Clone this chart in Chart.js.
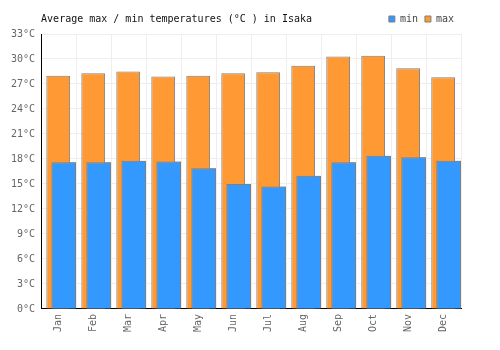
<!DOCTYPE html>
<html><head><meta charset="utf-8">
<script src="https://cdn.jsdelivr.net/npm/chart.js@4"></script>
<style>html,body{margin:0;padding:0;background:#fff}</style>
</head><body>
<canvas id="c" width="500" height="350"></canvas>
<script>
const titleText = 'Average max / min temperatures (°C ) in Isaka';
const months = ['Jan','Feb','Mar','Apr','May','Jun','Jul','Aug','Sep','Oct','Nov','Dec'];
const maxTemps = [28.0, 28.3, 28.5, 27.9, 28.0, 28.3, 28.4, 29.2, 30.3, 30.4, 28.9, 27.8];
const minTemps = [17.6, 17.6, 17.8, 17.7, 16.9, 15.0, 14.7, 16.0, 17.6, 18.4, 18.2, 17.8];
const yMin = 0, yMax = 33, yStep = 3;

const FONT = "'DejaVu Sans Mono', monospace";
Chart.defaults.font.family = FONT;
Chart.defaults.font.size = 10;

const titlePlugin = {
  id: 'sideTitle',
  afterDraw(chart) {
    const ctx = chart.ctx;
    const hb = chart.legend && chart.legend.legendHitBoxes && chart.legend.legendHitBoxes[0];
    const y = hb ? hb.top + hb.height / 2 : 17;
    ctx.save();
    ctx.font = '10px ' + FONT;
    ctx.fillStyle = '#111';
    ctx.textBaseline = 'middle';
    ctx.textAlign = 'left';
    ctx.fillText(titleText, chart.chartArea.left, y);
    ctx.restore();
  }
};
const minOnTop = {
  id: 'minOnTop',
  afterDatasetsDraw(chart) {
    const meta = chart.getDatasetMeta(1);
    if (meta && meta.controller) meta.controller.draw();
  }
};

new Chart(document.getElementById('c'), {
  type: 'bar',
  data: {
    labels: months,
    datasets: [
      { label: 'max', data: maxTemps, backgroundColor: '#ff9933', borderColor: '#7f7f7f', borderWidth: 1,
        categoryPercentage: 0.04, barPercentage: 34 },
      { label: 'min', data: minTemps, backgroundColor: '#3399ff', borderColor: '#7f7f7f', borderWidth: 1,
        categoryPercentage: 0.589, barPercentage: 2.4 }
    ]
  },
  options: {
    responsive: false,
    animation: false,
    layout: { padding: { left: 5, right: 39, top: 7, bottom: 13 } },
    plugins: {
      title: { display: false },
      tooltip: { enabled: false },
      legend: {
        position: 'top', align: 'end', reverse: true,
        labels: { boxWidth: 6, boxHeight: 6, padding: 7, color: '#444', font: { size: 10, family: FONT } }
      }
    },
    scales: {
      x: {
        offset: true,
        grid: { color: '#eeeeee', drawTicks: false, offset: true },
        border: { color: '#000', width: 1 },
        ticks: { minRotation: 90, maxRotation: 90, color: '#666', padding: 5, font: { size: 10, family: FONT } }
      },
      y: {
        min: yMin, max: yMax,
        grid: { color: '#eeeeee', drawTicks: false },
        border: { color: '#000', width: 1 },
        ticks: { stepSize: yStep, color: '#666', padding: 6, font: { size: 10, family: FONT },
          callback: v => v + '°C' }
      }
    }
  },
  plugins: [titlePlugin, minOnTop]
});
</script>
</body></html>
